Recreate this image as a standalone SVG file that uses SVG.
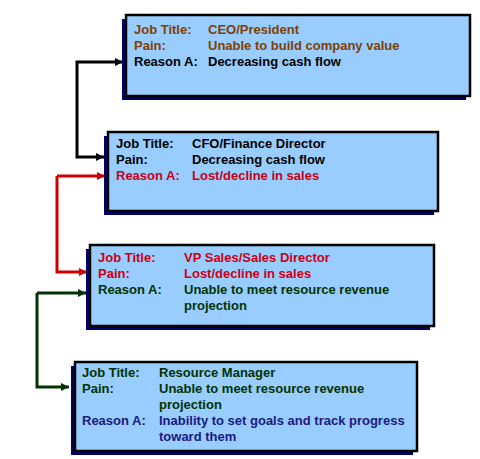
<svg xmlns="http://www.w3.org/2000/svg" width="480" height="459" viewBox="0 0 480 459">
<defs>
<style>
.shadow{fill:#000066}
.box{fill:#99CCFF;stroke:#000;stroke-width:2.5}
text{font-family:"Liberation Sans",Arial,sans-serif;font-weight:bold;font-size:13px}
.brown{fill:#7F3F00}.black{fill:#000}.red{fill:#CC0011}.green{fill:#003300}.navy{fill:#1A1A80}
.conn{fill:none;stroke-width:3;stroke-linejoin:miter}
</style>
<marker id="aBlack" markerUnits="userSpaceOnUse" markerWidth="9" markerHeight="8" refX="8" refY="4" orient="auto-start-reverse"><path d="M0,0 L8,4 L0,8 z" fill="#000"/></marker>
<marker id="aRed" markerUnits="userSpaceOnUse" markerWidth="9" markerHeight="8" refX="8" refY="4" orient="auto-start-reverse"><path d="M0,0 L8,4 L0,8 z" fill="#CC0000"/></marker>
<marker id="aGreen" markerUnits="userSpaceOnUse" markerWidth="9" markerHeight="8" refX="8" refY="4" orient="auto-start-reverse"><path d="M0,0 L8,4 L0,8 z" fill="#003300"/></marker>
</defs>
<rect width="480" height="459" fill="#fff"/>
<g id="connectors">
<path class="conn" d="M123,62 H77 V157 H104" stroke="#000" marker-start="url(#aBlack)" marker-end="url(#aBlack)"/>
<path class="conn" d="M57,176 V272 H87" stroke="#CC0000" marker-end="url(#aRed)"/>
<path class="conn" d="M57,176 H105" stroke="#CC0000" marker-end="url(#aRed)"/>
<path class="conn" d="M37,293 V387 H69" stroke="#003300" marker-end="url(#aGreen)"/>
<path class="conn" d="M37,293 H86" stroke="#003300" marker-end="url(#aGreen)"/>
</g>
<g id="ceo">
<rect class="shadow" x="122" y="19" width="344" height="81"/>
<rect class="box" x="126" y="15" width="344" height="81"/>
<text x="134" y="34" class="brown">Job Title:</text><text x="208" y="34" class="brown">CEO/President</text>
<text x="134" y="50" class="brown">Pain:</text><text x="208" y="50" class="brown">Unable to build company value</text>
<text x="134" y="66" class="black">Reason A:</text><text x="208" y="66" class="black">Decreasing cash flow</text>
</g>
<g id="cfo">
<rect class="shadow" x="104" y="136" width="330" height="79"/>
<rect class="box" x="108" y="132" width="330" height="79"/>
<text x="116" y="148" class="black">Job Title:</text><text x="192" y="148" class="black">CFO/Finance Director</text>
<text x="116" y="164" class="black">Pain:</text><text x="192" y="164" class="black">Decreasing cash flow</text>
<text x="116" y="180" class="red">Reason A:</text><text x="192" y="180" class="red">Lost/decline in sales</text>
</g>
<g id="vpsales">
<rect class="shadow" x="86" y="249" width="344" height="81"/>
<rect class="box" x="90" y="245" width="344" height="81"/>
<text x="98" y="262" class="red">Job Title:</text><text x="184" y="262" class="red">VP Sales/Sales Director</text>
<text x="98" y="278" class="red">Pain:</text><text x="184" y="278" class="red">Lost/decline in sales</text>
<text x="98" y="294" class="green">Reason A:</text><text x="184" y="294" class="green">Unable to meet resource revenue</text>
<text x="184" y="310" class="green">projection</text>
</g>
<g id="resource">
<rect class="shadow" x="71" y="366" width="342" height="89"/>
<rect class="box" x="75" y="362" width="342" height="89"/>
<text x="82" y="377" class="green">Job Title:</text><text x="159" y="377" class="green">Resource Manager</text>
<text x="82" y="393" class="green">Pain:</text><text x="159" y="393" class="green">Unable to meet resource revenue</text>
<text x="159" y="409" class="green">projection</text>
<text x="82" y="425" class="navy">Reason A:</text><text x="159" y="425" class="navy">Inability to set goals and track progress</text>
<text x="159" y="441" class="navy">toward them</text>
</g>
</svg>
